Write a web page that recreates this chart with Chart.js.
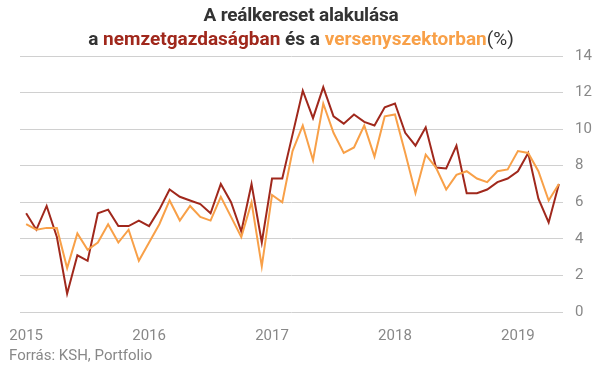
<!DOCTYPE html>
<html>
<head>
<meta charset="utf-8">
<script src="https://cdn.jsdelivr.net/npm/chart.js@4"></script>
<style>
  body { margin: 0; background: #fff; }
  #wrap { position: relative; width: 602px; height: 366px; font-family: Roboto, sans-serif; }
  #title { position: absolute; left: 0; top: 3px; width: 602px; text-align: center;
           font-weight: bold; font-size: 19px; line-height: 24px; color: #333; }
  #title .l1 { letter-spacing: -0.2px; }
  #title .red { color: #a0281c; }
  #title .orange { color: #f8a048; }
  #title .pct { font-weight: normal; }
  #source { position: absolute; left: 9px; top: 346px; font-size: 15px; color: #888; }
  canvas { position: absolute; left: 0; top: 0; }
</style>
</head>
<body>
<div id="wrap">
  <canvas id="chart" width="602" height="366"></canvas>
  <div id="title"><span class="l1">A reálkereset alakulása</span><br>a <span class="red">nemzetgazdaságban</span> és a <span class="orange">versenyszektorban</span><span class="pct">(%)</span></div>
  <div id="source">Forrás: KSH, Portfolio</div>
</div>
<script>
// havi adatok 2015. jan - 2019. máj
const years = ['2015', '2016', '2017', '2018', '2019'];
const yTicks = [0, 2, 4, 6, 8, 10, 12, 14];

const nemzetgazdasag = [
  5.4, 4.5, 5.8, 4.1, 1.0, 3.1, 2.8, 5.4, 5.6, 4.7, 4.7, 5.0,
  4.7, 5.6, 6.7, 6.3, 6.1, 5.9, 5.4, 7.0, 6.0, 4.4, 7.0, 3.8,
  7.3, 7.3, 9.7, 12.1, 10.6, 12.3, 10.7, 10.3, 10.8, 10.4, 10.2, 11.2,
  11.4, 9.8, 9.1, 10.1, 7.9, 7.85, 9.1, 6.5, 6.5, 6.7, 7.1, 7.3,
  7.7, 8.7, 6.2, 4.9, 7.0
];
const versenyszektor = [
  4.8, 4.5, 4.6, 4.6, 2.4, 4.3, 3.4, 3.8, 4.8, 3.8, 4.5, 2.8,
  3.8, 4.8, 6.1, 5.0, 5.8, 5.2, 5.0, 6.3, 5.2, 4.1, 6.0, 2.5,
  6.4, 6.0, 8.8, 10.2, 8.3, 11.4, 9.8, 8.7, 9.0, 10.2, 8.5, 10.7,
  10.8, 8.7, 6.5, 8.6, 7.9, 6.7, 7.5, 7.7, 7.3, 7.1, 7.7, 7.8,
  8.8, 8.7, 7.7, 6.1, 7.0
];

const toPoints = arr => arr.map((v, i) => ({ x: i, y: v }));

const ctx = document.getElementById('chart').getContext('2d');
new Chart(ctx, {
    type: 'line',
    data: {
        datasets: [
            {
                label: 'nemzetgazdaságban',
                data: toPoints(nemzetgazdasag),
                borderColor: '#a0281c',
                borderWidth: 2,
                pointRadius: 0,
                tension: 0,
                order: 1
            },
            {
                label: 'versenyszektorban',
                data: toPoints(versenyszektor),
                borderColor: '#f8a048',
                borderWidth: 2,
                pointRadius: 0,
                tension: 0,
                order: 0
            }
        ]
    },
    options: {
        responsive: false,
        animation: false,
        layout: { padding: { left: 20, top: 56, right: 0, bottom: 24 } },
        plugins: {
            legend: { display: false },
            tooltip: { enabled: false }
        },
        scales: {
            x: {
                type: 'linear',
                min: -0.6,
                max: 52.4,
                grid: { display: false },
                border: { display: false },
                afterBuildTicks: s => { s.ticks = years.map((y, i) => ({ value: i * 12 })); },
                afterFit: s => { s.height = 30; },
                ticks: {
                    autoSkip: false,
                    maxRotation: 0,
                    padding: 7,
                    color: '#888',
                    font: { family: 'Roboto', size: 15 },
                    callback: v => years[v / 12]
                }
            },
            y: {
                position: 'right',
                min: 0,
                max: 14,
                afterBuildTicks: s => { s.ticks = yTicks.map(v => ({ value: v })); },
                afterFit: s => { s.width = 39; },
                grid: { color: '#d0d0d0', lineWidth: 1, drawTicks: false },
                border: { display: false },
                ticks: {
                    padding: 12,
                    color: '#888',
                    font: { family: 'Roboto', size: 15 }
                }
            }
        }
    }
});
</script>
</body>
</html>
